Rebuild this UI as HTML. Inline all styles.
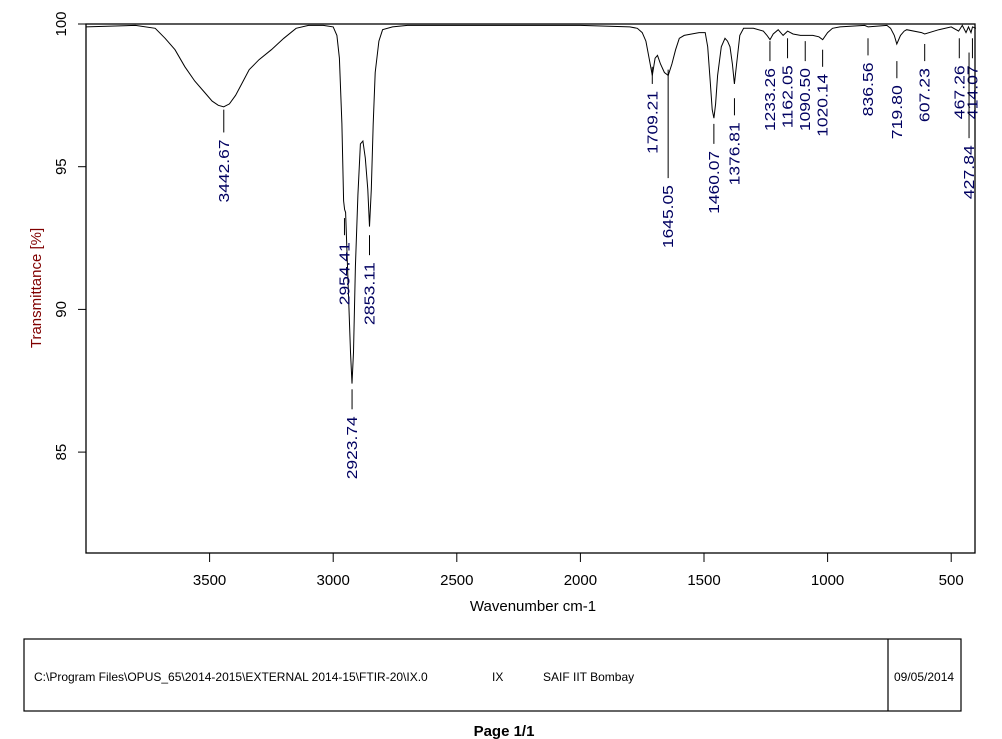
<!DOCTYPE html>
<html><head><meta charset="utf-8"><style>
body{margin:0;background:#fff;width:1002px;height:739px;overflow:hidden;font-family:"Liberation Sans",Arial,sans-serif}
svg{position:absolute;left:0;top:0}
</style></head><body>
<svg id="chart" width="1002" height="739" xmlns="http://www.w3.org/2000/svg">
<rect x="86" y="24" width="889" height="529" fill="none" stroke="#000" stroke-width="1.3"/>
<text x="533" y="611" font-size="15" text-anchor="middle" fill="#000">Wavenumber cm-1</text>
<text transform="translate(41,288) rotate(-90)" font-size="15" text-anchor="middle" fill="#800000">Transmittance [%]</text>
<rect x="24" y="639" width="937" height="72" fill="none" stroke="#000" stroke-width="1.2"/>
<line x1="888" y1="639" x2="888" y2="711" stroke="#000" stroke-width="1.2"/>
<text x="34" y="681" font-size="12">C:\Program Files\OPUS_65\2014-2015\EXTERNAL 2014-15\FTIR-20\IX.0</text>
<text x="492" y="681" font-size="12">IX</text>
<text x="543" y="681" font-size="12">SAIF IIT Bombay</text>
<text x="894" y="681" font-size="12">09/05/2014</text>
<text x="504" y="736" font-size="15" font-weight="bold" text-anchor="middle">Page 1/1</text>
<g id="axes"></g>
<path id="spectrum" fill="none" stroke="#000" stroke-width="1"/>
<g id="peaks"></g>
</svg>
<script>
const xTicks=[3500,3000,2500,2000,1500,1000,500];
const yTicks=[100,95,90,85];
const wavenumbers=[4000,3800,3720,3680,3640,3600,3560,3520,3490,3465,3443,3420,3395,3370,3340,3300,3250,3200,3150,3100,3040,3000,2985,2975,2965,2958,2954,2950,2940,2930,2924,2918,2910,2900,2890,2880,2870,2860,2853,2846,2838,2830,2815,2800,2760,2700,2000,1800,1770,1750,1735,1722,1709,1698,1688,1676,1660,1645,1630,1615,1600,1580,1550,1520,1495,1485,1475,1467,1460,1453,1445,1430,1415,1405,1395,1385,1377,1368,1355,1340,1300,1260,1245,1233,1220,1200,1180,1162,1140,1110,1090,1060,1035,1020,1000,980,950,850,836,760,745,730,720,705,690,680,620,607,550,500,470,455,440,430,420,414,400];
const transmittance=[99.9,99.95,99.85,99.5,99.1,98.5,98.0,97.6,97.3,97.15,97.1,97.2,97.5,97.9,98.4,98.75,99.1,99.5,99.85,99.95,99.95,99.9,99.6,98.8,96.5,93.8,93.5,93.4,91.0,88.5,87.4,88.5,91.5,94.0,95.8,95.9,95.3,94.2,92.9,94.2,96.5,98.3,99.4,99.8,99.9,99.95,99.95,99.9,99.85,99.7,99.4,98.8,98.2,98.8,98.9,98.6,98.3,98.2,98.6,99.1,99.5,99.6,99.65,99.7,99.7,99.2,98.0,97.0,96.7,97.2,98.2,99.2,99.5,99.4,99.2,98.6,97.9,98.6,99.6,99.85,99.85,99.75,99.6,99.45,99.65,99.8,99.6,99.75,99.65,99.6,99.6,99.6,99.55,99.45,99.7,99.85,99.9,99.95,99.9,99.95,99.85,99.6,99.3,99.6,99.75,99.8,99.7,99.65,99.8,99.9,99.75,99.95,99.7,99.9,99.7,99.9,99.85];
const peakLabels=["3442.67","2954.41","2853.11","2923.74","1709.21","1645.05","1460.07","1376.81","1233.26","1162.05","1090.50","1020.14","836.56","719.80","607.23","467.26","414.07","427.84"];
const peakTickTop=[97.0,93.2,92.6,87.2,98.5,98.4,96.5,97.4,99.4,99.5,99.4,99.1,99.5,98.7,99.3,99.5,99.5,99.0];
const peakTickBottom=[96.2,92.6,91.9,86.5,97.9,94.6,95.8,96.8,98.7,98.8,98.7,98.5,98.9,98.1,98.7,98.8,98.8,96.0];
const NS="http://www.w3.org/2000/svg";
const X=w=>86+(4000-w)*0.2472;
const Y=t=>24+(100-t)*28.54;
const axes=document.getElementById('axes');
function mk(tag,attrs,parent){const e=document.createElementNS(NS,tag);for(const k in attrs)e.setAttribute(k,attrs[k]);parent.appendChild(e);return e;}
xTicks.forEach(v=>{
  const l=mk('line',{x1:X(v),x2:X(v),y1:553,y2:562,stroke:'#000'},axes);
  
  
  const t=mk('text',{x:X(v),y:585,'font-size':15,'text-anchor':'middle'},axes);
  t.textContent=v;
  
  
});
yTicks.forEach(v=>{
  const l=mk('line',{x1:78,x2:86,y1:Y(v),y2:Y(v),stroke:'#000'},axes);
  
  
  const t=mk('text',{transform:`translate(66,${Y(v)}) rotate(-90)`,'font-size':15,'text-anchor':'middle'},axes);
  t.textContent=v;
  
  
});
document.getElementById('spectrum').setAttribute('d',wavenumbers.map((w,i)=>(i?'L':'M')+X(w).toFixed(1)+','+Y(transmittance[i]).toFixed(1)).join(''));
const peaks=document.getElementById('peaks');
peakLabels.forEach((lab,i)=>{
  const w=parseFloat(lab),x=X(w);
  const y1=Y(peakTickTop[i]),y2=Y(peakTickBottom[i]);
  const l=mk('line',{x1:x,x2:x,y1:y1,y2:y2,stroke:'#000'},peaks);
  
  
  const t=mk('text',{transform:`translate(${x+5},${y2+7+lab.length*9}) rotate(-90)`,'font-size':15,'text-anchor':'start',textLength:lab.length*9,lengthAdjust:'spacingAndGlyphs',fill:'#000060'},peaks);
  t.textContent=lab;
  
  
});
</script>
</body></html>
